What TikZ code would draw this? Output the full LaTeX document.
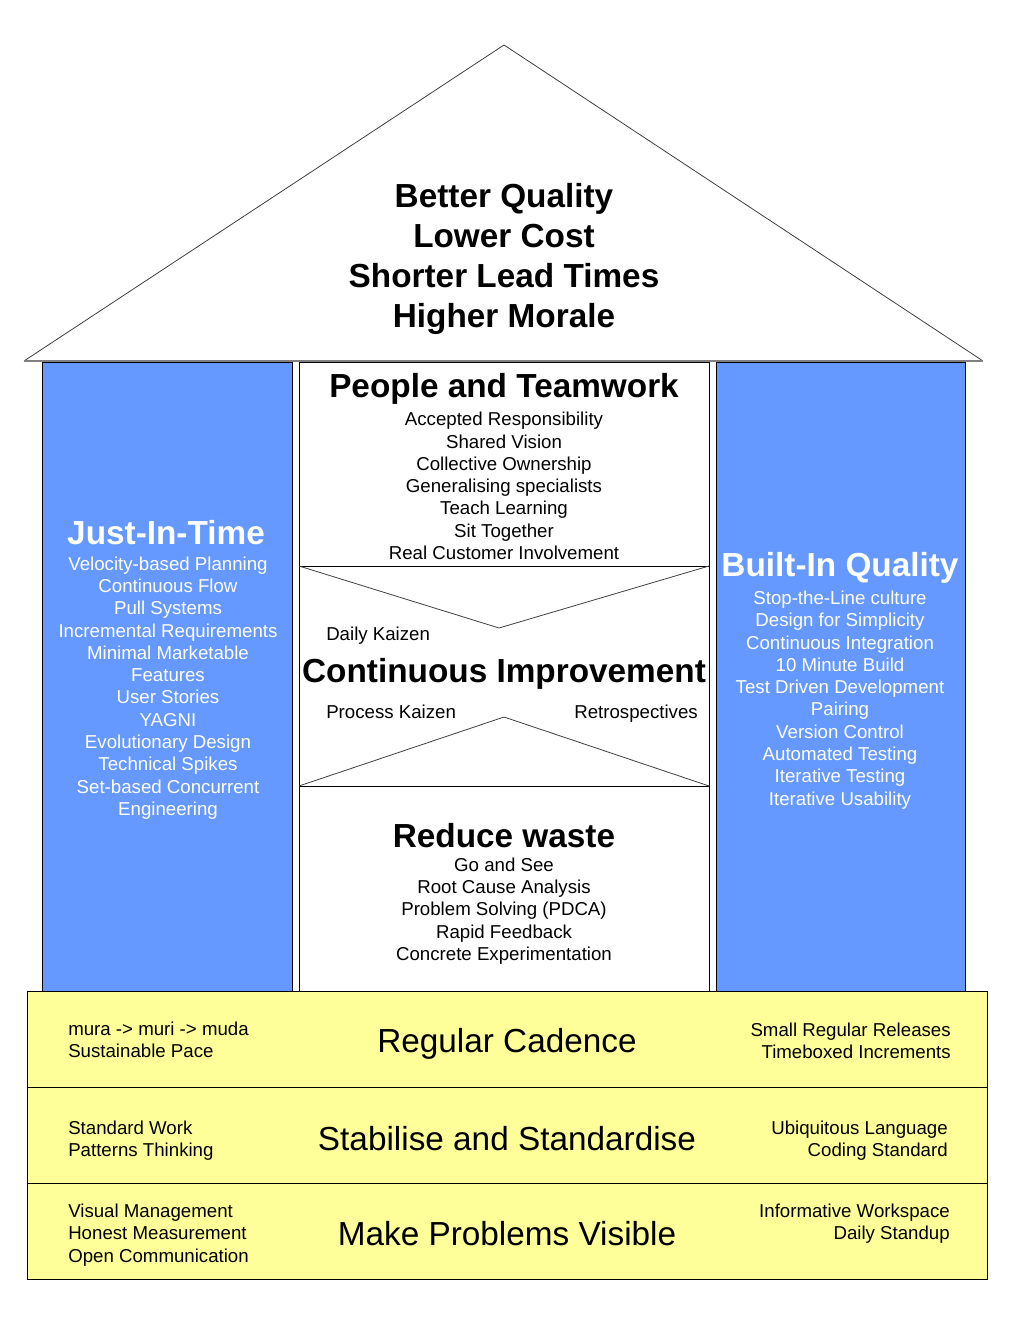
\documentclass[tikz,border=0pt]{standalone}
\usepackage{fontspec}
\setmainfont{Liberation Sans}
\definecolor{pillar}{RGB}{102,153,255}
\definecolor{band}{RGB}{255,255,153}
\begin{document}
\begin{tikzpicture}[x=0.75pt,y=-0.75pt,
  big/.style={font=\fontsize{25}{30}\selectfont\bfseries, inner sep=0pt, align=center},
  bandtitle/.style={font=\fontsize{25}{30}\selectfont, inner sep=0pt},
  small/.style={font=\fontsize{14}{16.7}\selectfont, inner sep=0pt, align=center},
  wsmall/.style={small, text=white},
  pillarbox/.style={fill=pillar, draw=black, line width=0.75pt},
  bandbox/.style={fill=band, draw=black, line width=0.75pt},
  roofline/.style={draw=black!75, line width=0.6pt},
  thinline/.style={draw=black, line width=0.75pt}]
\useasboundingbox (0,0) rectangle (1008,1344);
\fill[white] (0,0) rectangle (1008,1344);
% roof
\fill[white] (24,361) -- (504,45) -- (983,361) -- cycle;
\draw[roofline] (24,361) -- (504,45) -- (983,361);
% pillars
\draw[pillarbox] (42,362) rectangle (292,991);
\draw[pillarbox] (716,362) rectangle (965,991);
% middle column
\draw[thinline, fill=white] (299,362) rectangle (709,991);
\draw[thinline] (299,566) -- (709,566);
\draw[roofline] (299,566) -- (499,628) -- (709,566);
\draw[thinline] (299,786) -- (709,786);
\draw[roofline] (299,786) -- (504,717) -- (709,786);
% roof base
\draw[draw=black!50, line width=1.5pt] (24,361) -- (983,361);
% bands
\draw[bandbox] (27,991) rectangle (987,1087);
\draw[bandbox] (27,1087) rectangle (987,1183);
\draw[bandbox] (27,1183) rectangle (987,1279);
% roof text
\node[big] (goals) at (504,259) {Better Quality\\Lower Cost\\Shorter Lead Times\\Higher Morale};
% Just-In-Time
\node[big, text=white] (jit) at (166,533) {Just-In-Time};
\node[wsmall] (jitlist) at (168,688) {Velocity-based Planning\\Continuous Flow\\Pull Systems\\Incremental Requirements\\Minimal Marketable\\Features\\User Stories\\YAGNI\\Evolutionary Design\\Technical Spikes\\Set-based Concurrent\\Engineering};
% Built-In Quality
\node[big, text=white] (biq) at (840,568) {Built-In Quality};
\node[wsmall] (biqlist) at (840,700) {Stop-the-Line culture\\Design for Simplicity\\Continuous Integration\\10 Minute Build\\Test Driven Development\\Pairing\\Version Control\\Automated Testing\\Iterative Testing\\Iterative Usability};
% People and Teamwork
\node[big] (people) at (504,389) {People and Teamwork};
\node[small] (peoplelist) at (504,486) {Accepted Responsibility\\Shared Vision\\Collective Ownership\\Generalising specialists\\Teach Learning\\Sit Together\\Real Customer Involvement};
% Continuous Improvement
\node[small, anchor=west] (daily) at (326,636) {Daily Kaizen};
\node[big] (ci) at (504,674) {Continuous Improvement};
\node[small, anchor=west] (process) at (326,712) {Process Kaizen};
\node[small, anchor=east] (retro) at (698,714) {Retrospectives};
% Reduce waste
\node[big] (waste) at (504,836) {Reduce waste};
\node[small] (wastelist) at (504,911) {Go and See\\Root Cause Analysis\\Problem Solving (PDCA)\\Rapid Feedback\\Concrete Experimentation};
% band 1
\node[small, anchor=west, align=left] (b1l) at (68,1040) {mura -> muri -> muda\\Sustainable Pace};
\node[bandtitle] (b1c) at (507,1044) {Regular Cadence};
\node[small, anchor=east, align=right] (b1r) at (951,1041) {Small Regular Releases\\Timeboxed Increments};
% band 2
\node[small, anchor=west, align=left] (b2l) at (68,1141) {Standard Work\\Patterns Thinking};
\node[bandtitle] (b2c) at (507,1139) {Stabilise and Standardise};
\node[small, anchor=east, align=right] (b2r) at (948,1141) {Ubiquitous Language\\Coding Standard};
% band 3
\node[small, anchor=west, align=left] (b3l) at (68,1235) {Visual Management\\Honest Measurement\\Open Communication};
\node[bandtitle] (b3c) at (507,1234) {Make Problems Visible};
\node[small, anchor=east, align=right] (b3r) at (950,1224) {Informative Workspace\\Daily Standup};
\end{tikzpicture}
\end{document}
